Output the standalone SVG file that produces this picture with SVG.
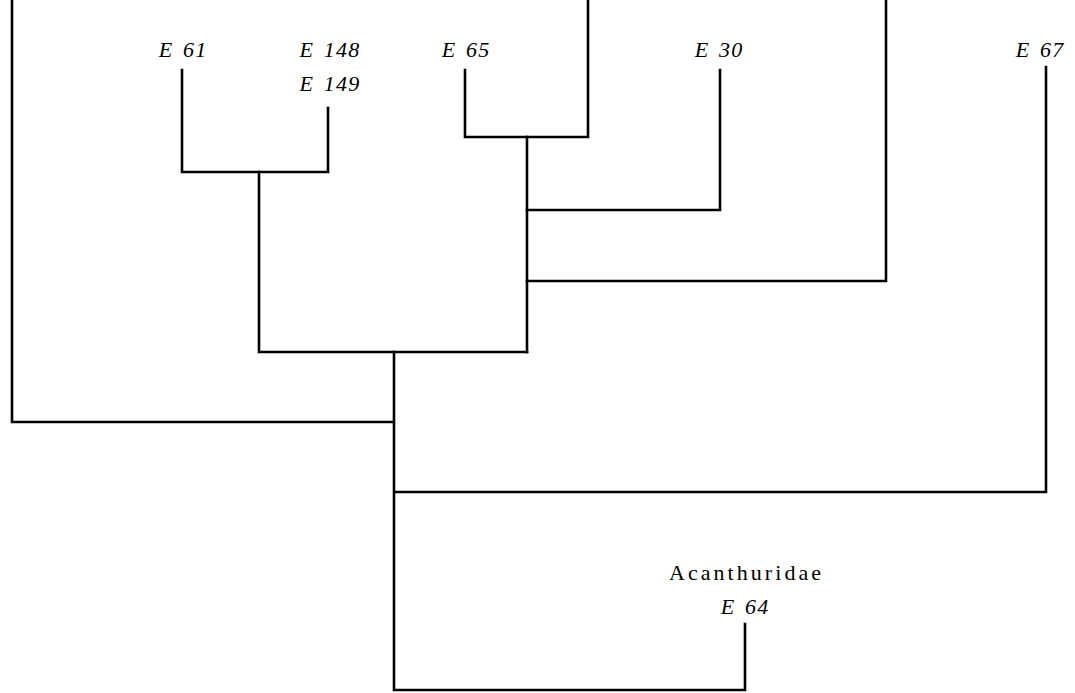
<svg xmlns="http://www.w3.org/2000/svg" width="1075" height="693" viewBox="0 0 1075 693">
<style>
.e{fill:none;stroke:#000;stroke-width:2.6;stroke-linecap:square}
.t{font-family:"Liberation Serif",serif;font-size:22px;fill:#000;text-anchor:middle}
.i{font-style:italic;letter-spacing:1.2px;word-spacing:3px}
</style>
<rect width="1075" height="693" fill="#fff"/>
<g id="connectors">
<path class="e" d="M12,0 V422 H392"/>
<path class="e" d="M588,0 V137 H465 V70"/>
<path class="e" d="M182,70 V172 H328 V108"/>
<path class="e" d="M259,172 V352 H527"/>
<path class="e" d="M527,137 V352"/>
<path class="e" d="M527,210 H720 V70"/>
<path class="e" d="M886,0 V281 H527"/>
<path class="e" d="M394,352 V690 H745 V624"/>
<path class="e" d="M395,492 H1046 V67"/>
</g>
<g id="n-e61"><text class="t i" x="183" y="57">E 61</text></g>
<g id="n-e148"><text class="t i" x="330" y="57">E 148</text><text class="t i" x="330" y="91">E 149</text></g>
<g id="n-e65"><text class="t i" x="466" y="57">E 65</text></g>
<g id="n-e30"><text class="t i" x="719" y="57">E 30</text></g>
<g id="n-e67"><text class="t i" x="1040" y="57">E 67</text></g>
<g id="n-e64"><text class="t" x="745" y="580" font-size="24" textLength="152" lengthAdjust="spacing">Acanthuridae</text><text class="t i" x="745" y="614">E 64</text></g>
</svg>
